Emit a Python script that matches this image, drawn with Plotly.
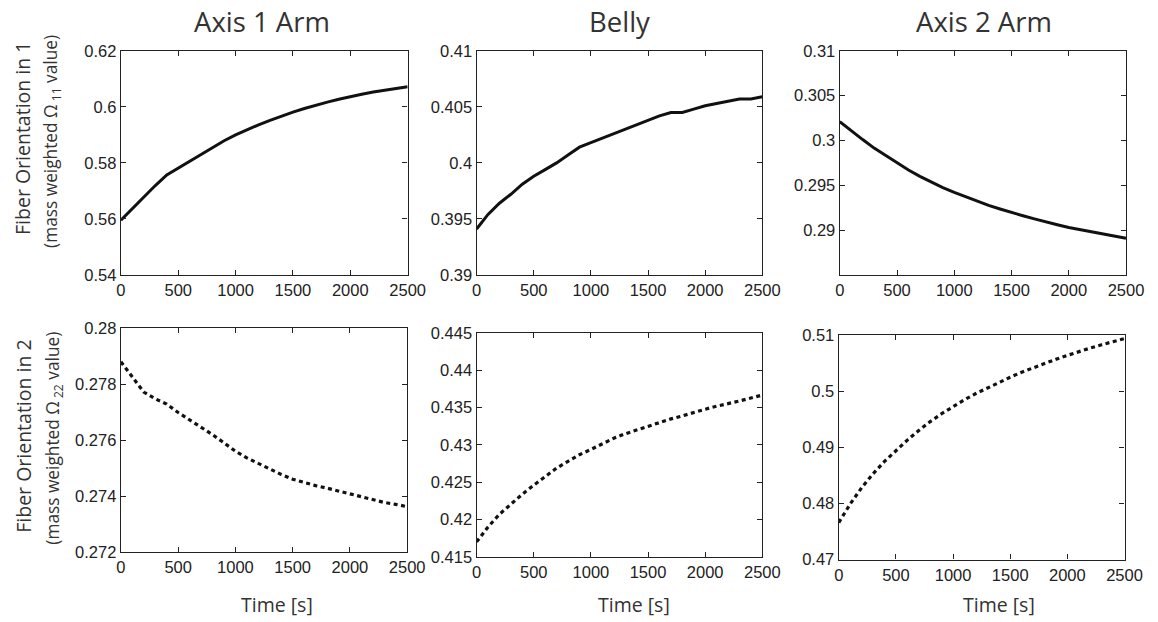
import plotly.graph_objects as go

# ---------------- data ----------------
time_s = [0, 100, 200, 300, 400, 500, 600, 700, 800, 900, 1000, 1100, 1200, 1300,
          1400, 1500, 1600, 1700, 1800, 1900, 2000, 2100, 2200, 2300, 2400, 2500]

axis1_arm_o11 = [0.5595, 0.5637, 0.5678, 0.5719, 0.5757, 0.5781, 0.5807, 0.5832, 0.5856,
                 0.5879, 0.5900, 0.5919, 0.5936, 0.5952, 0.5967, 0.5981, 0.5994, 0.6006,
                 0.6017, 0.6027, 0.6037, 0.6045, 0.6053, 0.6060, 0.6066, 0.6072]
belly_o11 = [0.3941, 0.3954, 0.3964, 0.3972, 0.3981, 0.3988, 0.3994, 0.4000, 0.4007,
             0.4014, 0.4018, 0.4022, 0.4026, 0.4030, 0.4034, 0.4038, 0.4042, 0.4045,
             0.4045, 0.4048, 0.4051, 0.4053, 0.4055, 0.4057, 0.4057, 0.4059]
axis2_arm_o11 = [0.3021, 0.30105, 0.3001, 0.29915, 0.2983, 0.29745, 0.2967, 0.2960,
                 0.29535, 0.29475, 0.2942, 0.2937, 0.2932, 0.29275, 0.29235, 0.29195,
                 0.2916, 0.29125, 0.2909, 0.2906, 0.2903, 0.29005, 0.2898, 0.28955,
                 0.2893, 0.2891]

axis1_arm_o22 = [0.27880, 0.27827, 0.27772, 0.27748, 0.27729, 0.27699, 0.27673, 0.27646,
                 0.27620, 0.27591, 0.27561, 0.27537, 0.27517, 0.27497, 0.27478, 0.27461,
                 0.27449, 0.27438, 0.27429, 0.27419, 0.27408, 0.27396, 0.27386, 0.27378,
                 0.27371, 0.27363]
belly_o22 = [0.4170, 0.4190, 0.4207, 0.4221, 0.4234, 0.4246, 0.4258, 0.4269, 0.4278,
             0.4287, 0.4294, 0.4302, 0.4309, 0.4315, 0.4320, 0.4326, 0.4331, 0.4335,
             0.4339, 0.4344, 0.4348, 0.4352, 0.4355, 0.4359, 0.4363, 0.4367]
axis2_arm_o22 = [0.4766, 0.4799, 0.4828, 0.4853, 0.4875, 0.4895, 0.4913, 0.4930, 0.4946,
                 0.4960, 0.4973, 0.4985, 0.4996, 0.5006, 0.5016, 0.5025, 0.5034, 0.5042,
                 0.5050, 0.5057, 0.5064, 0.5071, 0.5077, 0.5083, 0.5089, 0.5094]

column_titles = ["Axis 1 Arm", "Belly", "Axis 2 Arm"]
x_ticks = [0, 500, 1000, 1500, 2000, 2500]

y_ranges = [[0.54, 0.62], [0.39, 0.41], [0.285, 0.31],
            [0.272, 0.28], [0.415, 0.445], [0.47, 0.51]]
y_ticks = [[0.54, 0.56, 0.58, 0.60, 0.62],
           [0.39, 0.395, 0.40, 0.405, 0.41],
           [0.29, 0.295, 0.30, 0.305, 0.31],
           [0.272, 0.274, 0.276, 0.278, 0.28],
           [0.415, 0.42, 0.425, 0.43, 0.435, 0.44, 0.445],
           [0.47, 0.48, 0.49, 0.50, 0.51]]

series = [axis1_arm_o11, belly_o11, axis2_arm_o11,
          axis1_arm_o22, belly_o22, axis2_arm_o22]

# ---------------- layout geometry ----------------
W, H = 1158, 622
# observed capture mapping: screen = scale * figure + offset (compensated here)
SX, OX = 0.981, 5.0
SY, OY = 0.975, 7.5


def px(x):
    return ((x - OX) / SX) / W


def py(y):
    return 1 - ((y - OY) / SY) / H


boxes = [(121, 408, 49.5, 274.5), (477, 763, 49.5, 274.5), (840.5, 1127, 49.5, 274.5),
         (121, 407.5, 328, 553), (477, 763, 333, 557.5), (839.5, 1125.5, 335, 560.3)]

fig = go.Figure()
layout = dict(width=W, height=H, autosize=False,
              margin=dict(l=0, r=0, t=0, b=0, pad=0),
              paper_bgcolor="white", plot_bgcolor="white",
              showlegend=False)

tick_font = dict(family="Liberation Sans, Arial, sans-serif", size=16.5, color="#222")
axis_common = dict(showline=True, linecolor="#222", linewidth=1.4, mirror="ticks",
                   ticks="inside", ticklen=5, tickwidth=1, tickcolor="#222",
                   showgrid=False, zeroline=False, tickfont=tick_font)

for i, (ys, (l, r, t, b)) in enumerate(zip(series, boxes)):
    n = i + 1
    xa = "x" if n == 1 else f"x{n}"
    ya = "y" if n == 1 else f"y{n}"
    dashed = i >= 3
    fig.add_trace(go.Scatter(
        x=time_s, y=ys, mode="lines", xaxis=xa, yaxis=ya,
        line=dict(color="#111", width=3.2 if dashed else 3,
                  dash="4px,3.5px" if dashed else "solid"),
        hoverinfo="skip"))
    xkey = "xaxis" if n == 1 else f"xaxis{n}"
    ykey = "yaxis" if n == 1 else f"yaxis{n}"
    layout[xkey] = dict(axis_common, domain=[px(l), px(r)], anchor=ya,
                        range=[0, 2500], tickmode="array", tickvals=x_ticks,
                        ticktext=[str(v) for v in x_ticks])
    layout[ykey] = dict(axis_common, domain=[py(b), py(t)], anchor=xa,
                        range=y_ranges[i], tickmode="array", tickvals=y_ticks[i],
                        ticktext=[f"{v:g}" for v in y_ticks[i]])

fig.update_layout(**layout)

title_font = dict(family="Open Sans, sans-serif", size=27.5, color="#333")
label_font = dict(family="Open Sans, sans-serif", size=19.5, color="#333")
sub_font = dict(family="Open Sans, sans-serif", size=17.3, color="#333")

ann = []
for (cx, txt) in zip([262, 620, 985], column_titles):
    ann.append(dict(x=px(cx), y=py(20.5), xref="paper", yref="paper", text=txt,
                    showarrow=False, font=title_font, xanchor="center", yanchor="middle"))
for cx in [277, 635, 1000]:
    ann.append(dict(x=px(cx), y=py(605), xref="paper", yref="paper", text="Time [s]",
                    showarrow=False, font=label_font, xanchor="center", yanchor="middle"))

ann.append(dict(x=px(23), y=py(137), xref="paper", yref="paper",
                text="Fiber Orientation in 1", textangle=-90, showarrow=False,
                font=label_font, xanchor="center", yanchor="middle"))
ann.append(dict(x=px(52), y=py(140), xref="paper", yref="paper",
                text="(mass weighted Ω<sub> 11</sub> value)", textangle=-90, showarrow=False,
                font=sub_font, xanchor="center", yanchor="middle"))
ann.append(dict(x=px(24), y=py(436), xref="paper", yref="paper",
                text="Fiber Orientation in 2", textangle=-90, showarrow=False,
                font=label_font, xanchor="center", yanchor="middle"))
ann.append(dict(x=px(54), y=py(438), xref="paper", yref="paper",
                text="(mass weighted Ω<sub> 22</sub> value)", textangle=-90, showarrow=False,
                font=sub_font, xanchor="center", yanchor="middle"))

fig.update_layout(annotations=ann)
fig.write_html("out.html", config={"displayModeBar": False})
